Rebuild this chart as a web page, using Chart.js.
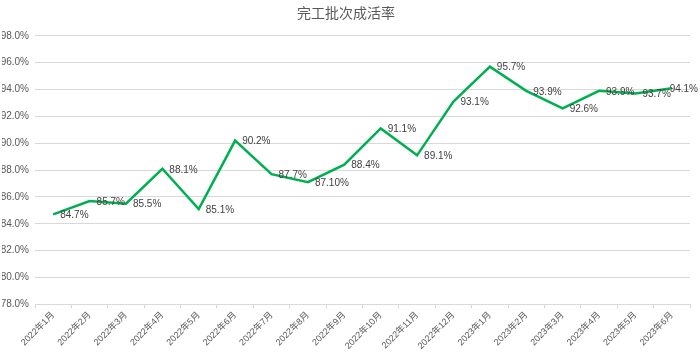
<!DOCTYPE html>
<html>
<head>
<meta charset="utf-8">
<script src="https://cdn.jsdelivr.net/npm/chart.js@4/dist/chart.umd.min.js"></script>
<style>
  body { margin: 0; background: #fff; }
  #wrap { width: 700px; height: 353px; }
</style>
</head>
<body>
<div id="wrap"><canvas id="rateChart"></canvas></div>
<script>
const months = ['2022年1月','2022年2月','2022年3月','2022年4月','2022年5月','2022年6月','2022年7月','2022年8月','2022年9月',
  '2022年10月','2022年11月','2022年12月','2023年1月','2023年2月','2023年3月','2023年4月','2023年5月','2023年6月'];
const rates = [84.7, 85.7, 85.5, 88.1, 85.1, 90.2, 87.7, 87.1, 88.4, 91.1, 89.1, 93.1, 95.7, 93.9, 92.6, 93.9, 93.7, 94.1];
const rateLabels = ['84.7%','85.7%','85.5%','88.1%','85.1%','90.2%','87.7%','87.10%','88.4%','91.1%','89.1%','93.1%','95.7%','93.9%','92.6%','93.9%','93.7%','94.1%'];

const fontFamily = '"Liberation Sans", Arial, "Noto Sans CJK SC", sans-serif';

// draws value labels to the right of each point, kept inside the canvas
const pointLabels = {
  id: 'pointLabels',
  afterDatasetsDraw(chart) {
    const ctx = chart.ctx;
    const meta = chart.getDatasetMeta(0);
    ctx.save();
    ctx.font = '10px ' + fontFamily;
    ctx.fillStyle = '#404040';
    ctx.textAlign = 'left';
    ctx.textBaseline = 'middle';
    meta.data.forEach((pt, i) => {
      const w = ctx.measureText(rateLabels[i]).width;
      const x = Math.min(pt.x + 7, chart.width - w - 2);
      ctx.fillText(rateLabels[i], x, pt.y + 1);
    });
    ctx.restore();
  }
};

const ctx = document.getElementById('rateChart').getContext('2d');
new Chart(ctx, {
  type: 'line',
  data: {
    labels: months,
    datasets: [{
      data: rates,
      borderColor: '#00B050',
      borderWidth: 2.5,
      pointRadius: 0,
      tension: 0,
      fill: false
    }]
  },
  options: {
    responsive: true,
    maintainAspectRatio: false,
    animation: false,
    layout: { padding: { left: 2, right: 10, top: 4, bottom: 0 } },
    plugins: {
      legend: { display: false },
      tooltip: { enabled: false },
      title: {
        display: true,
        text: '完工批次成活率',
        color: '#595959',
        font: { family: fontFamily, size: 14, weight: 'normal' },
        padding: { top: 2, bottom: 13 }
      }
    },
    scales: {
      x: {
        offset: true,
        grid: { display: true, drawOnChartArea: false, offset: true, tickLength: 4, color: '#d9d9d9' },
        border: { color: '#d9d9d9' },
        ticks: {
          color: '#595959',
          font: { family: fontFamily, size: 9 },
          maxRotation: 45,
          minRotation: 45,
          autoSkip: false,
          padding: 1.5
        }
      },
      y: {
        min: 78,
        max: 98,
        grid: { color: '#d9d9d9', drawTicks: false },
        border: { display: false },
        afterFit(scale) { scale.width = 33; },
        ticks: {
          stepSize: 2,
          color: '#595959',
          font: { family: fontFamily, size: 10 },
          padding: 6,
          callback: v => v.toFixed(1) + '%'
        }
      }
    }
  },
  plugins: [pointLabels]
});
</script>
</body>
</html>
